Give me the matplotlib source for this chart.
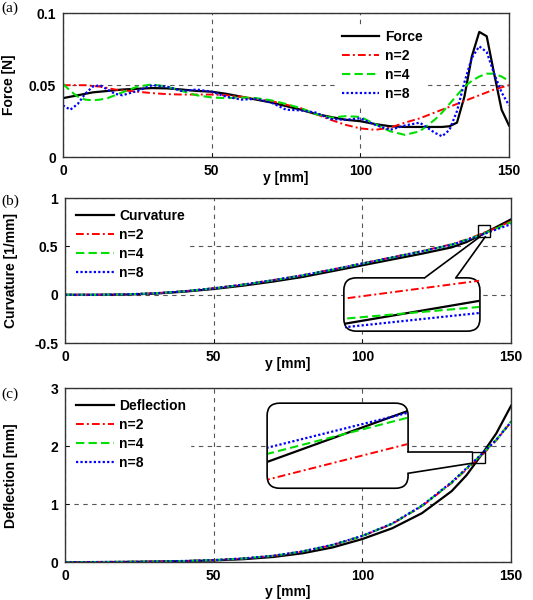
import numpy as np
import matplotlib.pyplot as plt
from matplotlib.patches import FancyBboxPatch, Polygon, Rectangle

plt.rcParams['font.family'] = ['Liberation Sans', 'DejaVu Sans']
plt.rcParams['font.weight'] = 'bold'
plt.rcParams['font.size'] = 10

# (a) force along the beam
y_force = [0, 2.5, 5, 7.5, 10, 12.5, 15, 17.5, 20, 25, 30, 35, 40, 45, 50, 55, 60, 65, 70, 75,
           80, 85, 90, 95, 100, 105, 110, 115, 120, 125, 127.5, 130, 132.5, 135, 137.5, 140,
           142.5, 145, 147.5, 150]
force_ref = [0.041, 0.042, 0.043, 0.044, 0.045, 0.0455, 0.046, 0.0465, 0.047,
             0.0475, 0.048, 0.0478, 0.047, 0.046, 0.0455, 0.044, 0.042, 0.040, 0.038, 0.0355,
             0.033, 0.030, 0.028, 0.026, 0.025, 0.023, 0.0215, 0.021, 0.021, 0.021,
             0.021, 0.0215, 0.024, 0.042, 0.070, 0.087, 0.084, 0.058, 0.033, 0.022]
force_n2 = [0.050, 0.050, 0.050, 0.050, 0.0495, 0.049, 0.048, 0.047, 0.0465,
            0.0455, 0.0445, 0.0438, 0.0435, 0.0435, 0.0435, 0.043, 0.042, 0.0405, 0.039, 0.0365,
            0.034, 0.030, 0.026, 0.0225, 0.020, 0.019, 0.0205, 0.024, 0.027, 0.031,
            0.033, 0.035, 0.037, 0.039, 0.041, 0.043, 0.045, 0.047, 0.0485, 0.050]
force_n4 = [0.051, 0.046, 0.042, 0.040, 0.0395, 0.040, 0.041, 0.043, 0.045,
            0.049, 0.0505, 0.049, 0.046, 0.043, 0.0415, 0.041, 0.0415, 0.041, 0.0395, 0.037,
            0.034, 0.030, 0.0275, 0.0285, 0.028, 0.023, 0.018, 0.0155, 0.018, 0.026,
            0.031, 0.037, 0.043, 0.049, 0.053, 0.056, 0.058, 0.058, 0.056, 0.053]
force_n8 = [0.036, 0.033, 0.037, 0.044, 0.049, 0.050, 0.047, 0.044, 0.043,
            0.046, 0.050, 0.049, 0.046, 0.047, 0.0455, 0.042, 0.040, 0.0405, 0.038, 0.033,
            0.0325, 0.031, 0.0265, 0.026, 0.027, 0.0225, 0.019, 0.022, 0.024, 0.017,
            0.0145, 0.019, 0.032, 0.052, 0.069, 0.077, 0.073, 0.058, 0.045, 0.036]

# (b) curvature
y_curv = [0, 10, 20, 30, 40, 50, 60, 70, 80, 90, 100, 110, 120, 130, 135, 140, 140.5, 145, 150]
curv_ref = [0.0, 0.0, 0.002, 0.012, 0.032, 0.060, 0.095, 0.137, 0.185, 0.245, 0.305, 0.365,
            0.425, 0.490, 0.545, 0.620, 0.629, 0.700, 0.780]
curv_n2 = [0.0, 0.0, 0.004, 0.015, 0.037, 0.068, 0.107, 0.152, 0.203, 0.262, 0.325, 0.388,
           0.452, 0.522, 0.572, 0.630, 0.637, 0.690, 0.760]
curv_n4 = [0.0, 0.0, 0.004, 0.015, 0.036, 0.067, 0.105, 0.150, 0.201, 0.260, 0.322, 0.385,
           0.449, 0.518, 0.568, 0.622, 0.6266, 0.685, 0.750]
curv_n8 = [0.0, 0.0, 0.004, 0.015, 0.036, 0.067, 0.106, 0.151, 0.202, 0.261, 0.323, 0.386,
           0.449, 0.517, 0.565, 0.6186, 0.6242, 0.675, 0.730]

# (c) deflection
y_defl = [0, 10, 20, 30, 40, 50, 60, 70, 80, 90, 100, 110, 120, 130, 135, 140, 140.5, 145, 150]
defl_ref = [0.0, 0.002, 0.005, 0.010, 0.018, 0.030, 0.052, 0.090, 0.155, 0.255, 0.400, 0.585,
            0.845, 1.225, 1.500, 1.850, 1.885, 2.220, 2.700]
defl_n2 = [0.0, 0.002, 0.005, 0.011, 0.021, 0.036, 0.065, 0.110, 0.185, 0.295, 0.450, 0.660,
           0.965, 1.365, 1.600, 1.8375, 1.862, 2.100, 2.420]
defl_n4 = [0.0, 0.002, 0.005, 0.011, 0.021, 0.036, 0.065, 0.110, 0.186, 0.297, 0.452, 0.663,
           0.970, 1.375, 1.615, 1.8555, 1.8804, 2.110, 2.430]
defl_n8 = [0.0, 0.002, 0.005, 0.011, 0.021, 0.036, 0.065, 0.111, 0.188, 0.300, 0.455, 0.667,
           0.975, 1.380, 1.620, 1.8598, 1.8838, 2.110, 2.420]

n_labels = ['n=2', 'n=4', 'n=8']
styles = [dict(color='black', lw=1.6, ls='-'),
          dict(color='#ff0000', lw=1.4, dashes=(4, 1.6, 1, 1.6)),
          dict(color='#00e000', lw=1.5, dashes=(4, 2)),
          dict(color='#0000ff', lw=1.6, dashes=(1, 1))]

fig = plt.figure(figsize=(5.33, 6.0), dpi=100)
axes = [fig.add_axes([0.118, 0.738, 0.837, 0.240]),
        fig.add_axes([0.122, 0.428, 0.837, 0.242]),
        fig.add_axes([0.122, 0.063, 0.837, 0.290])]


def plot_series(ax, x, series, labels):
    for ys, st, lab in zip(series, styles, labels):
        ax.plot(x, ys, label=lab, **st)


def setup(ax, ylim, yticks, ytlabels, ylabel, xlab_y):
    ax.set_xlim(0, 150)
    ax.set_ylim(*ylim)
    ax.set_xticks([0, 50, 100, 150])
    ax.set_yticks(yticks)
    ax.set_yticklabels(ytlabels)
    ax.tick_params(direction='in', length=3, width=0.6, pad=5, labelsize=10)
    ax.grid(True, linestyle=(0, (4, 4)), color='#555555', lw=0.8)
    ax.set_axisbelow(True)
    for s in ax.spines.values():
        s.set_color('#333333')
        s.set_linewidth(1.0)
    ax.set_xlabel('y [mm]', fontweight='bold')
    ax.xaxis.set_label_coords(0.5, xlab_y)
    ax.set_ylabel(ylabel, fontweight='bold')
    ax.yaxis.set_label_coords(-0.105, 0.5)


def legend(ax, anchor):
    leg = ax.legend(loc='upper left', bbox_to_anchor=anchor, handlelength=2.7,
                    handletextpad=0.4, labelspacing=0.35, borderpad=0.3,
                    frameon=True, framealpha=1, edgecolor='white', fancybox=False)
    leg.set_zorder(6)


def callout(ax, bubble, cover, sides, square, zx, zy, x, series):
    pos = ax.get_position()
    fw, fh = fig.get_size_inches() * fig.dpi
    aspect = (pos.width * fw) / (pos.height * fh)
    x0, y0, x1, y1 = bubble
    ax.add_patch(FancyBboxPatch((x0, y0), x1 - x0, y1 - y0,
                                boxstyle='round,pad=0,rounding_size=0.028',
                                mutation_aspect=aspect, transform=ax.transAxes,
                                fc='white', ec='black', lw=1.2, zorder=4, clip_on=False))
    ax.add_patch(Polygon(cover, closed=True, transform=ax.transAxes, fc='white',
                         ec='none', zorder=4.2, clip_on=False))
    for (p, q) in sides:
        ax.plot([p[0], q[0]], [p[1], q[1]], color='black', lw=1.2,
                transform=ax.transAxes, zorder=4.3, clip_on=False)
    sx0, sy0, sx1, sy1 = square
    ax.add_patch(Rectangle((sx0, sy0), sx1 - sx0, sy1 - sy0, transform=ax.transAxes,
                           fc='none', ec='black', lw=1.0, zorder=4.3))
    axin = ax.inset_axes([x0 + 0.003, y0 + 0.01, x1 - x0 - 0.006, y1 - y0 - 0.02])
    axin.set_facecolor('none')
    axin.axis('off')
    for ys, st in zip(series, styles):
        axin.plot(x, ys, **st)
    axin.set_xlim(*zx)
    axin.set_ylim(*zy)


# (a)
ax = axes[0]
plot_series(ax, y_force, [force_ref, force_n2, force_n4, force_n8], ['Force'] + n_labels)
setup(ax, (0, 0.1), [0, 0.05, 0.1], ['0', '0.05', '0.1'], 'Force [N]', -0.095)
legend(ax, (0.6, 0.96))

# (b)
ax = axes[1]
plot_series(ax, y_curv, [curv_ref, curv_n2, curv_n4, curv_n8], ['Curvature'] + n_labels)
setup(ax, (-0.5, 1), [-0.5, 0, 0.5, 1], ['-0.5', '0', '0.5', '1'], 'Curvature [1/mm]', -0.095)
legend(ax, (0.0, 1.0))
callout(ax, bubble=(0.625, 0.083, 0.930, 0.450),
        cover=[(0.806, 0.43), (0.806, 0.452), (0.930, 0.733), (0.942, 0.733),
               (0.876, 0.452), (0.876, 0.43)],
        sides=[((0.806, 0.450), (0.930, 0.733)), ((0.876, 0.450), (0.942, 0.733))],
        square=(0.926, 0.733, 0.953, 0.814),
        zx=(140, 140.5), zy=(0.6176, 0.6376),
        x=y_curv, series=[curv_ref, curv_n2, curv_n4, curv_n8])

# (c)
ax = axes[2]
plot_series(ax, y_defl, [defl_ref, defl_n2, defl_n4, defl_n8], ['Deflection'] + n_labels)
setup(ax, (0, 3), [0, 1, 2, 3], ['0', '1', '2', '3'], 'Deflection [mm]', -0.13)
legend(ax, (0.0, 1.0))
callout(ax, bubble=(0.453, 0.425, 0.769, 0.914),
        cover=[(0.76, 0.632), (0.771, 0.632), (0.913, 0.632), (0.913, 0.569),
               (0.771, 0.511), (0.76, 0.511)],
        sides=[((0.769, 0.632), (0.913, 0.632)), ((0.769, 0.511), (0.913, 0.569))],
        square=(0.913, 0.569, 0.942, 0.632),
        zx=(140, 140.5), zy=(1.8325, 1.8895),
        x=y_defl, series=[defl_ref, defl_n2, defl_n4, defl_n8])

for lab, yy in zip(['(a)', '(b)', '(c)'], [8, 201, 394]):
    fig.text(0.002, 1 - yy / 600, lab, family='Liberation Serif', fontweight='normal',
             fontsize=11, va='center', ha='left')

fig.savefig('out.png', dpi=100)
